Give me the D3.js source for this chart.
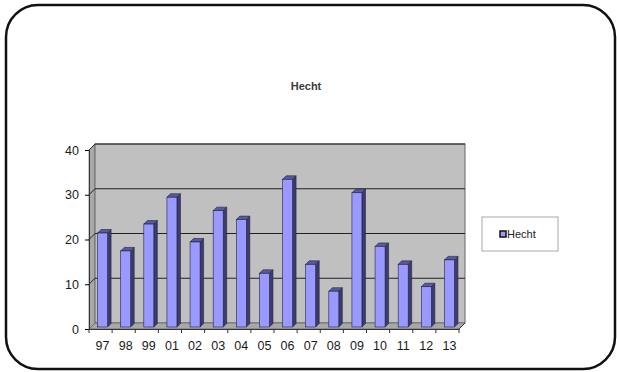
<!DOCTYPE html>
<html>
<head>
<meta charset="utf-8">
<script src="https://cdn.jsdelivr.net/npm/d3@7"></script>
<style>
  body { margin: 0; background: #fff; }
  svg { display: block; font-family: "Liberation Sans", Arial, sans-serif; }
</style>
</head>
<body>
<svg id="chart" width="617" height="372"></svg>
<script>
// data
const years = ["97", "98", "99", "01", "02", "03", "04", "05", "06", "07", "08", "09", "10", "11", "12", "13"]
const hecht = [21, 17, 23, 29, 19, 26, 24, 12, 33, 14, 8, 30, 18, 14, 9, 15]
const yTicks = [0, 10, 20, 30, 40]
const seriesName = "Hecht"

const svg = d3.select('#chart')

// outer frame
svg.append("rect")
    .attr("x", 6).attr("y", 5)
    .attr("width", 609).attr("height", 364)
    .attr("rx", 32).attr("ry", 32)
    .attr("fill", "#fff")
    .attr("stroke", "#111")
    .attr("stroke-width", 2.5)

// title
svg.append("text")
    .attr("x", 306).attr("y", 90)
    .attr("text-anchor", "middle")
    .attr("font-size", 11)
    .attr("font-weight", "bold")
    .attr("fill", "#3a3a3a")
    .text(seriesName)

// front plane coordinates
const left = 89, right = 459
const dx = 6, dy = -6   // depth offset of back wall

const x = d3.scaleBand().domain(years).range([left, right])
const y = d3.scaleLinear().domain([0, 40]).range([329, 150])

const g = svg.append("g")

// side wall
g.append("polygon")
    .attr("points", [[left, y(40)], [left + dx, y(40) + dy], [left + dx, y(0) + dy], [left, y(0)]].join(" "))
    .attr("fill", "#a9a9a9")
    .attr("stroke", "#777").attr("stroke-width", 0.8)

// back wall
g.append("rect")
    .attr("x", left + dx).attr("y", y(40) + dy)
    .attr("width", right - left).attr("height", y(0) - y(40))
    .attr("fill", "#c0c0c0")
    .attr("stroke", "#666").attr("stroke-width", 1)

// floor
g.append("polygon")
    .attr("points", [[left, y(0)], [right, y(0)], [right + dx, y(0) + dy], [left + dx, y(0) + dy]].join(" "))
    .attr("fill", "#a8a8a8")
    .attr("stroke", "#666").attr("stroke-width", 0.8)

// gridlines (back wall + side wall diagonal)
yTicks.filter(d => d > 0).forEach(d => {
    g.append("line")
        .attr("x1", left + dx).attr("x2", right + dx)
        .attr("y1", y(d) + dy).attr("y2", y(d) + dy)
        .attr("stroke", "#222").attr("stroke-width", 1)
    g.append("line")
        .attr("x1", left).attr("x2", left + dx)
        .attr("y1", y(d)).attr("y2", y(d) + dy)
        .attr("stroke", "#222").attr("stroke-width", 1)
})

// axes
const yAxis = d3.axisLeft(y).tickValues(yTicks).tickSize(4).tickPadding(6)
const ya = g.append("g").attr("transform", `translate(${left},0)`).call(yAxis)
ya.select(".domain").attr("stroke", "#333")
ya.selectAll("text").attr("font-size", 12.5).attr("fill", "#1a1a1a")
    .attr("font-family", "Liberation Sans, Arial, sans-serif")

const xAxis = d3.axisBottom(x).tickSize(0).tickPadding(12)
const xa = g.append("g").attr("transform", `translate(0,${y(0)})`).call(xAxis)
xa.select(".domain").attr("stroke", "#333")
xa.selectAll("text").attr("font-size", 12.5).attr("fill", "#1a1a1a")
    .attr("font-family", "Liberation Sans, Arial, sans-serif")
    .attr("dx", 2)
// tick marks between categories
g.append("g").selectAll("line")
    .data(years.concat(["end"]))
    .enter().append("line")
    .attr("x1", (d, i) => left + i * x.step())
    .attr("x2", (d, i) => left + i * x.step())
    .attr("y1", y(0)).attr("y2", y(0) + 4)
    .attr("stroke", "#333")
// floor right edge
g.append("line")
    .attr("x1", right).attr("y1", y(0))
    .attr("x2", right + dx).attr("y2", y(0) + dy)
    .attr("stroke", "#333")

// 3D bars
const bw = 10, bd = 3.5, shift = 2
const bars = g.append("g").selectAll(".bar")
    .data(hecht)
    .enter().append("g").attr("class", "bar")

const bx = (d, i) => x(years[i]) + shift + (x.bandwidth() - bw) / 2
const by = d => y(d) - shift
const base = y(0) - shift

// side face
bars.append("polygon")
    .attr("points", (d, i) => {
        const x1 = bx(d, i) + bw
        return [[x1, by(d)], [x1 + bd, by(d) - bd], [x1 + bd, base - bd], [x1, base]].join(" ")
    })
    .attr("fill", "#3c3c6e").attr("stroke", "#222244").attr("stroke-width", 0.6)
// top face
bars.append("polygon")
    .attr("points", (d, i) => {
        const x0 = bx(d, i)
        return [[x0, by(d)], [x0 + bd, by(d) - bd], [x0 + bw + bd, by(d) - bd], [x0 + bw, by(d)]].join(" ")
    })
    .attr("fill", "#5a5a9a").attr("stroke", "#222244").attr("stroke-width", 0.6)
// front face
bars.append("rect")
    .attr("x", bx)
    .attr("y", d => by(d))
    .attr("width", bw)
    .attr("height", d => base - by(d))
    .attr("fill", "#9999ff").attr("stroke", "#222244").attr("stroke-width", 0.6)

// legend
const lg = svg.append("g")
lg.append("rect")
    .attr("x", 482).attr("y", 217).attr("width", 76).attr("height", 34)
    .attr("fill", "#fff").attr("stroke", "#aaa").attr("stroke-width", 1)
lg.append("rect")
    .attr("x", 500).attr("y", 231).attr("width", 6).attr("height", 6)
    .attr("fill", "#9999ff").attr("stroke", "#111").attr("stroke-width", 1.5)
lg.append("text")
    .attr("x", 507).attr("y", 238)
    .attr("font-size", 11).attr("fill", "#222")
    .text(seriesName)
</script>
</body>
</html>
